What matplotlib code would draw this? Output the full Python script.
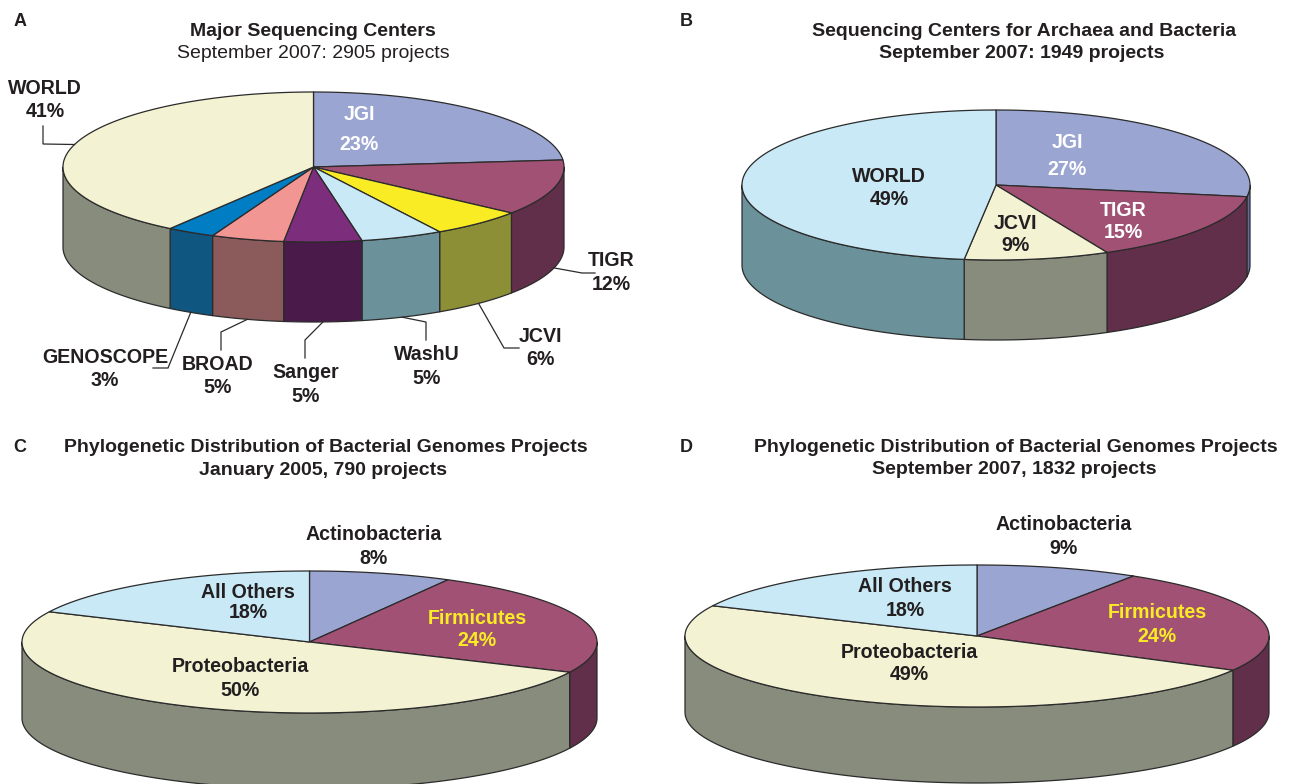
import numpy as np
import matplotlib
matplotlib.use("Agg")
import matplotlib.pyplot as plt
from matplotlib.patches import Polygon

plt.rcParams['font.family'] = ['Liberation Sans', 'DejaVu Sans']

# slice sizes, clockwise from 12 o'clock
names_a = ['JGI', 'TIGR', 'JCVI', 'WashU', 'Sanger', 'BROAD', 'GENOSCOPE', 'WORLD']
shares_a = [23.5, 12, 6.1, 5.3, 5, 4.7, 3.1, 40.3]
pct_a = [23, 12, 6, 5, 5, 5, 3, 41]
names_b = ['JGI', 'TIGR', 'JCVI', 'WORLD']
shares_b = [27.5, 15.3, 9.2, 48]
pct_b = [27, 15, 9, 49]
names_c = ['Actinobacteria', 'Firmicutes', 'Proteobacteria', 'All Others']
shares_c = [8, 24, 50, 18]
shares_d = [9, 24, 49, 18]

BLUE = ('#9AA5D2', '#5F6C9C')
PLUM = ('#A15274', '#612F4A')
YELLOW = ('#F9EC25', '#8C8F36')
SKY = ('#C8E9F5', '#6B919A')
PURPLE = ('#7C2E7C', '#4A1B4A')
PINK = ('#F29694', '#8B5A5A')
CYAN = ('#007DC3', '#0F5680')
CREAM = ('#F3F2D3', '#888C7C')
EDGE = '#2b2b2b'
INK = '#231F20'

fig = plt.figure(figsize=(12.89, 7.84), dpi=100)
ax = fig.add_axes([0, 0, 1, 1])
ax.set_xlim(0, 1289)
ax.set_ylim(784, 0)
ax.axis('off')


def rim(cx, cy, rx, ry, t):
    # t in radians clockwise from the top
    return cx + rx * np.sin(t), cy - ry * np.cos(t)


def pie3d(shares, colors, cx, cy, rx, ry, depth):
    edges = np.cumsum([0] + list(shares)) / sum(shares) * 2 * np.pi
    # the walls first, only the front half shows
    for i in range(len(shares)):
        a = max(edges[i], np.pi / 2)
        b = min(edges[i + 1], 3 * np.pi / 2)
        if b <= a:
            continue
        t = np.linspace(a, b, 120)
        x, y = rim(cx, cy, rx, ry, t)
        pts = np.r_[np.c_[x, y], np.c_[x, y + depth][::-1]]
        ax.add_patch(Polygon(pts, closed=True, fc=colors[i][1], ec=EDGE, lw=0.9, joinstyle='round'))
    for i in range(len(shares)):
        t = np.linspace(edges[i], edges[i + 1], 200)
        x, y = rim(cx, cy, rx, ry, t)
        pts = np.r_[[[cx, cy]], np.c_[x, y]]
        ax.add_patch(Polygon(pts, closed=True, fc=colors[i][0], ec=EDGE, lw=0.9, joinstyle='round'))
    return edges


def leader(edges, i, geom, elbow, wall=True):
    cx, cy, rx, ry, depth = geom
    x0, y0 = rim(cx, cy, rx, ry, (edges[i] + edges[i + 1]) / 2)
    if wall:
        y0 = y0 + depth
    xs = [x0] + [p[0] for p in elbow]
    ys = [y0] + [p[1] for p in elbow]
    ax.plot(xs, ys, color=EDGE, lw=0.9, solid_joinstyle='miter')


def label(name, pct, x, y1, y2, color=INK, size=14.1):
    ax.text(x, y1 + 1, name, ha='center', va='center', fontsize=size, fontweight='bold', color=color)
    ax.text(x, y2 + 1, str(pct) + '%', ha='center', va='center', fontsize=size, fontweight='bold', color=color)


def title(x, y, s, weight='bold'):
    ax.text(x, y + 1, s, ha='center', va='center', fontsize=14, fontweight=weight, color=INK)


# A
geom_a = (313.5, 167, 250.5, 75, 80)
edges_a = pie3d(shares_a, [BLUE, PLUM, YELLOW, SKY, PURPLE, PINK, CYAN, CREAM], *geom_a)
leader(edges_a, 1, geom_a, [(582, 273), (595, 273)])
leader(edges_a, 2, geom_a, [(504, 348), (519, 348)])
leader(edges_a, 3, geom_a, [(426, 322), (426, 340)])
leader(edges_a, 4, geom_a, [(305, 340), (305, 358)])
leader(edges_a, 5, geom_a, [(221, 332), (221, 350)])
leader(edges_a, 6, geom_a, [(168, 368), (153, 368)])
leader(edges_a, 7, geom_a, [(43, 144), (43, 126)], wall=False)
title(313, 30, 'Major Sequencing Centers')
title(313, 52, 'September 2007: 2905 projects', weight='normal')
label(names_a[0], pct_a[0], 359, 113, 143, color='white')
label(names_a[1], pct_a[1], 611, 259, 283)
label(names_a[2], pct_a[2], 540, 335, 358)
label(names_a[3], pct_a[3], 427, 353, 377)
label(names_a[4], pct_a[4], 306, 371, 395)
label(names_a[5], pct_a[5], 218, 363, 386)
label(names_a[6], pct_a[6], 105, 356, 379)
label(names_a[7], pct_a[7], 45, 87, 110)

# B
pie3d(shares_b, [BLUE, PLUM, CREAM, SKY], 996, 185, 254, 75, 80)
title(1024, 30, 'Sequencing Centers for Archaea and Bacteria')
title(1022, 52, 'September 2007: 1949 projects')
label(names_b[0], pct_b[0], 1067, 141, 168, color='white')
label(names_b[1], pct_b[1], 1123, 209, 231, color='white')
label(names_b[2], pct_b[2], 1015, 222, 244)
label(names_b[3], pct_b[3], 889, 175, 198)

# C
pie3d(shares_c, [BLUE, PLUM, CREAM, SKY], 309.5, 642, 287.5, 71, 76)
title(326, 446, 'Phylogenetic Distribution of Bacterial Genomes Projects')
title(323, 469, 'January 2005, 790 projects')
label(names_c[0], shares_c[0], 374, 533, 557)
label(names_c[1], shares_c[1], 477, 617, 639, color='#F9EC25')
label(names_c[2], shares_c[2], 240, 665, 689)
label(names_c[3], shares_c[3], 248, 591, 612)

# D
pie3d(shares_d, [BLUE, PLUM, CREAM, SKY], 977, 636, 292, 71, 76)
title(1016, 446, 'Phylogenetic Distribution of Bacterial Genomes Projects')
title(1014, 468, 'September 2007, 1832 projects')
label(names_c[0], shares_d[0], 1064, 524, 547)
label(names_c[1], shares_d[1], 1157, 612, 635, color='#F9EC25')
label(names_c[2], shares_d[2], 909, 651, 674)
label(names_c[3], shares_d[3], 905, 586, 609)

for s, x, y in [('A', 20, 20), ('B', 686, 20), ('C', 20, 446), ('D', 686, 446)]:
    ax.text(x, y + 1, s, ha='center', va='center', fontsize=13, fontweight='bold', color=INK)

fig.savefig('out.png', dpi=100)
